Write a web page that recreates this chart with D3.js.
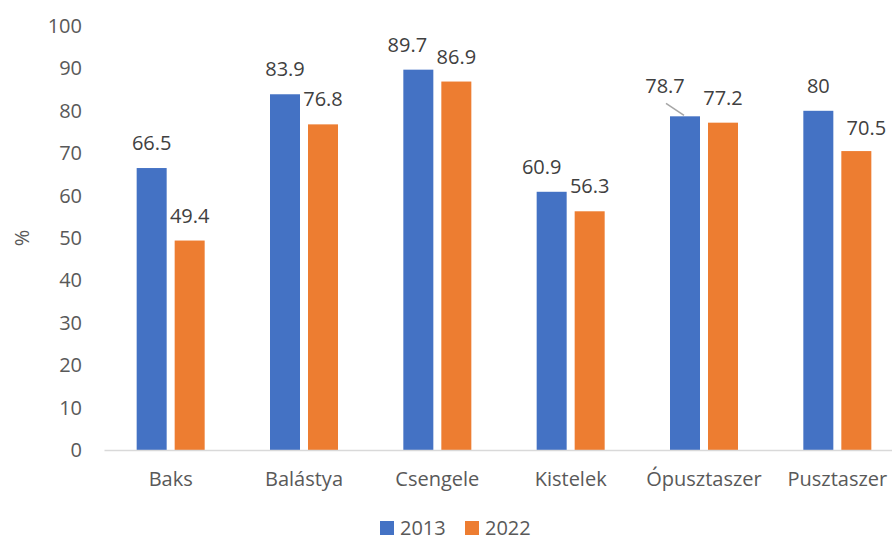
<!DOCTYPE html>
<html>
<head>
<meta charset="utf-8">
<script src="https://cdn.jsdelivr.net/npm/d3@7"></script>
<style>
  body { margin: 0; background: #fff; }
  #vis { width: 892px; height: 542px; }
  text { font-family: "Open Sans", sans-serif; }
</style>
</head>
<body>
<div id="vis"></div>
<script>
var categories = ['Baks', 'Balástya', 'Csengele', 'Kistelek', 'Ópusztaszer', 'Pusztaszer'];
var years = ['2013', '2022'];
var values2013 = [66.5, 83.9, 89.7, 60.9, 78.7, 80];
var values2022 = [49.4, 76.8, 86.9, 56.3, 77.2, 70.5];
var yTicks = [0, 10, 20, 30, 40, 50, 60, 70, 80, 90, 100];
var colors = ['#4472c4', '#ed7d31'];

// manual nudges of a few data labels, as in the original (dx, dy in px)
var labelShift = {
    '2013': [[0, 0], [0, 0], [-11, 0], [-10, 0], [-20, -5], [0, 0]],
    '2022': [[0, 0], [0, 0], [0, 0], [0, 0], [0, 0], [10, 2]]
};

var width = 892, height = 542;
var margin = { top: 26, bottom: 92, left: 104, right: -12 };
var innerW = width - margin.left - margin.right;
var innerH = height - margin.top - margin.bottom;

var svg = d3.select('#vis')
    .append('svg')
    .attr('width', width)
    .attr('height', height)
    .append('g')
    .attr('transform', 'translate(' + margin.left + ',' + margin.top + ')');

var x_scale = d3.scaleBand()
    .domain(categories)
    .range([0, innerW]);

var x_inner = d3.scaleBand()
    .domain(years)
    .range([0, 68])
    .paddingInner(8 / 38);

var y_scale = d3.scaleLinear()
    .domain([0, 100])
    .range([innerH, 0]);

// y axis labels (no line, no gridlines)
var y_axis = d3.axisLeft(y_scale).tickValues(yTicks).tickSize(0).tickPadding(22);
var yg = svg.append('g').call(y_axis);
yg.select('.domain').remove();
yg.selectAll('text')
    .style('font-size', '20px')
    .style('fill', '#595959');

var series = years.map(function(yr, i) {
    var vals = i === 0 ? values2013 : values2022;
    return categories.map(function(c, j) {
        return { cat: c, year: yr, value: vals[j], idx: j };
    });
});

var groups = svg.selectAll('g.series')
    .data(series)
    .enter()
    .append('g')
    .attr('class', 'series')
    .style('fill', function(d, i) { return colors[i]; });

var bandOffset = (x_scale.bandwidth() - 68) / 2;

groups.selectAll('rect')
    .data(function(d) { return d; })
    .enter()
    .append('rect')
    .attr('x', function(d) { return x_scale(d.cat) + bandOffset + x_inner(d.year); })
    .attr('width', x_inner.bandwidth())
    .attr('y', function(d) { return y_scale(d.value); })
    .attr('height', function(d) { return innerH - y_scale(d.value); });

// x axis
var x_axis = d3.axisBottom(x_scale).tickSize(0).tickPadding(22);
var xg = svg.append('g')
    .attr('transform', 'translate(0,' + innerH + ')')
    .call(x_axis);
xg.select('.domain').attr('stroke', '#d9d9d9').attr('stroke-width', 1.5);
xg.selectAll('text')
    .style('font-size', '20px')
    .style('fill', '#595959');

// data labels
groups.selectAll('text.label')
    .data(function(d) { return d; })
    .enter()
    .append('text')
    .attr('class', 'label')
    .attr('text-anchor', 'middle')
    .attr('x', function(d) {
        return x_scale(d.cat) + bandOffset + x_inner(d.year) + x_inner.bandwidth() / 2 + labelShift[d.year][d.idx][0];
    })
    .attr('y', function(d) { return y_scale(d.value) - 18 + labelShift[d.year][d.idx][1]; })
    .style('font-size', '20px')
    .style('fill', '#404040')
    .text(function(d) { return d.value; });

// leader line for the moved Ópusztaszer 2013 label
var op = series[0][4];
var opX = x_scale(op.cat) + bandOffset + x_inner(op.year) + x_inner.bandwidth() / 2;
svg.append('line')
    .attr('x1', opX - 19)
    .attr('y1', y_scale(op.value) - 13)
    .attr('x2', opX - 1)
    .attr('y2', y_scale(op.value) - 1)
    .attr('stroke', '#a6a6a6')
    .attr('stroke-width', 1.5);

// y title
d3.select('#vis svg').append('text')
    .text('%')
    .attr('transform', 'translate(29,238)rotate(-90)')
    .attr('text-anchor', 'middle')
    .style('font-size', '20px')
    .style('fill', '#595959');

// legend
var legend = d3.select('#vis svg').append('g')
    .attr('transform', 'translate(380,521)');
var items = legend.selectAll('g')
    .data(years)
    .enter()
    .append('g')
    .attr('transform', function(d, i) { return 'translate(' + (i * 85) + ',0)'; });
items.append('rect')
    .attr('width', 14)
    .attr('height', 14)
    .style('fill', function(d, i) { return colors[i]; });
items.append('text')
    .attr('x', 20)
    .attr('y', 14)
    .style('font-size', '20px')
    .style('fill', '#595959')
    .text(function(d) { return d; });
</script>
</body>
</html>
